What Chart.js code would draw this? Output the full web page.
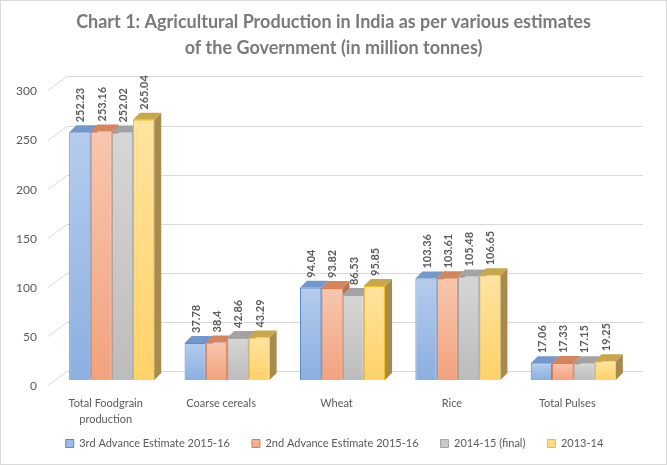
<!DOCTYPE html>
<html>
<head>
<meta charset="utf-8">
<script src="https://cdn.jsdelivr.net/npm/chart.js@4"></script>
<style>
  html, body { margin: 0; padding: 0; background: #fff; }
  #wrap { width: 667px; height: 465px; position: relative; }
</style>
</head>
<body>
<div id="wrap"><canvas id="barChart" width="667" height="465"></canvas></div>
<script>
var categories = [['Total Foodgrain', 'production'], 'Coarse cereals', 'Wheat', 'Rice', 'Total Pulses'];
var seriesNames = ['3rd Advance Estimate 2015-16', '2nd Advance Estimate 2015-16', '2014-15 (final)', '2013-14'];
var est3rd = [252.23, 37.78, 94.04, 103.36, 17.06];
var est2nd = [253.16, 38.4, 93.82, 103.61, 17.33];
var final1415 = [252.02, 42.86, 86.53, 105.48, 17.15];
var year1314 = [265.04, 43.29, 95.85, 106.65, 19.25];
var yTicks = [0, 50, 100, 150, 200, 250, 300];

// front gradient top/bottom, border, side, top face
var palette = [
    { top: '#b4cced', bottom: '#8bafe0', border: '#5b88c6', side: '#6a8cbf', cap: '#7398cc', box: '#9dbde6' },
    { top: '#f7c6ae', bottom: '#f3a27e', border: '#e07b4f', side: '#bf6f48', cap: '#d6845c', box: '#f5b193' },
    { top: '#d6d6d6', bottom: '#bcbcbc', border: '#a5a5a5', side: '#939393', cap: '#a3a3a3', box: '#c8c8c8' },
    { top: '#ffe3a0', bottom: '#ffd268', border: '#f2bf1e', side: '#a88a4c', cap: '#c9a64c', box: '#ffd985' }
];
var depth = 7;

function frontFill(i) {
    return function(c) {
        var chart = c.chart;
        if (!chart.chartArea || !chart.scales.y || c.raw == null) return palette[i].box;
        var y = chart.scales.y;
        var g = chart.ctx.createLinearGradient(0, y.getPixelForValue(c.raw), 0, y.getPixelForValue(0));
        g.addColorStop(0, palette[i].top);
        g.addColorStop(1, palette[i].bottom);
        return g;
    };
}

var seriesData = [est3rd, est2nd, final1415, year1314];
var datasets = seriesData.map(function(d, i) {
    return {
        label: seriesNames[i],
        data: d,
        backgroundColor: frontFill(i),
        borderColor: palette[i].border,
        borderWidth: 1,
        categoryPercentage: 0.737,
        barPercentage: 1.0
    };
});

// back wall grid lines and the 3D faces of the bars
var depthPlugin = {
    id: 'depth',
    afterLayout: function(chart) {
        // centre title and legend on the whole picture, not on the padded box
        var lg = chart.legend, tb = chart.titleBlock;
        lg.left += 19; lg.right += 19;
        lg.top -= 26; lg.bottom -= 26;
        tb.left += 18; tb.right += 18;
    },
    beforeDatasetsDraw: function(chart) {
        var ctx = chart.ctx, y = chart.scales.y, area = chart.chartArea;
        ctx.save();
        ctx.strokeStyle = '#d9d9d9';
        ctx.lineWidth = 1;
        yTicks.forEach(function(v) {
            var py = Math.round(y.getPixelForValue(v));
            ctx.beginPath();
            ctx.moveTo(area.left - 6, py + 5.5);
            ctx.lineTo(area.left + 13, py - 8.5);
            ctx.lineTo(area.right + 12, py - 8.5);
            ctx.stroke();
        });
        var n = chart.data.labels.length;
        for (var k = 0; k < n; k++) {
            chart.data.datasets.forEach(function(ds, i) {
                var bar = chart.getDatasetMeta(i).data[k];
                var l = bar.x - bar.width / 2, r = bar.x + bar.width / 2;
                var t = bar.y, b = bar.base;
                ctx.fillStyle = palette[i].side;
                ctx.beginPath();
                ctx.moveTo(r, t); ctx.lineTo(r + depth, t - depth);
                ctx.lineTo(r + depth, b - depth); ctx.lineTo(r, b);
                ctx.closePath(); ctx.fill();
                ctx.fillStyle = palette[i].cap;
                ctx.beginPath();
                ctx.moveTo(l, t); ctx.lineTo(l + depth, t - depth);
                ctx.lineTo(r + depth, t - depth); ctx.lineTo(r, t);
                ctx.closePath(); ctx.fill();
            });
        }
        ctx.restore();
    },
    afterDatasetsDraw: function(chart) {
        var ctx = chart.ctx;
        ctx.save();
        ctx.fillStyle = '#595959';
        ctx.font = 'bold 11px Lato';
        ctx.textAlign = 'left';
        ctx.textBaseline = 'middle';
        chart.data.datasets.forEach(function(ds, i) {
            chart.getDatasetMeta(i).data.forEach(function(bar, k) {
                ctx.save();
                ctx.translate(bar.x + 1, bar.y - 10);
                ctx.rotate(-Math.PI / 2);
                ctx.fillText(String(ds.data[k]), 0, 0);
                ctx.restore();
            });
        });
        ctx.restore();
    },
    afterDraw: function(chart) {
        var ctx = chart.ctx;
        ctx.save();
        ctx.strokeStyle = '#d9d9d9';
        ctx.strokeRect(0.5, 0.5, chart.width - 1, chart.height - 1);
        ctx.restore();
    }
};

var ctxBar = document.getElementById('barChart').getContext('2d');
var barChart = new Chart(ctxBar, {
    type: 'bar',
    data: { labels: categories, datasets: datasets },
    plugins: [depthPlugin],
    options: {
        responsive: false,
        animation: false,
        layout: { padding: { left: 0, right: 36, top: 0, bottom: -20 } },
        plugins: {
            title: {
                display: true,
                text: ['Chart 1: Agricultural Production in India as per various estimates',
                       'of the Government (in million tonnes)'],
                color: '#7a7a7a',
                font: { family: 'Lato', size: 18, weight: 'bold', lineHeight: 1.4 },
                padding: { top: 10, bottom: 25 }
            },
            legend: {
                position: 'bottom',
                labels: {
                    color: '#595959',
                    font: { family: 'Lato', size: 11 },
                    boxWidth: 8,
                    boxHeight: 8,
                    padding: 22,
                    generateLabels: function(chart) {
                        return chart.data.datasets.map(function(ds, i) {
                            return {
                                text: ds.label,
                                fillStyle: palette[i].box,
                                strokeStyle: palette[i].border,
                                lineWidth: 1,
                                fontColor: '#595959',
                                datasetIndex: i
                            };
                        });
                    }
                }
            },
            tooltip: { enabled: false }
        },
        scales: {
            x: {
                grid: { display: false, drawTicks: false },
                border: { display: false },
                ticks: {
                    color: '#595959',
                    font: { family: 'Lato', size: 11, lineHeight: 1.45 },
                    padding: 15,
                    labelOffset: -6,
                    maxRotation: 0,
                    autoSkip: false
                }
            },
            y: {
                min: 0,
                max: 300,
                afterFit: function(scale) { scale.width = 54; },
                afterBuildTicks: function(scale) {
                    scale.ticks = yTicks.map(function(v) { return { value: v }; });
                },
                grid: { display: false, drawTicks: false },
                border: { display: false },
                ticks: {
                    color: '#595959',
                    font: { family: 'Lato', size: 12 },
                    padding: 17,
                    labelOffset: 6
                }
            }
        }
    }
});
</script>
</body>
</html>
